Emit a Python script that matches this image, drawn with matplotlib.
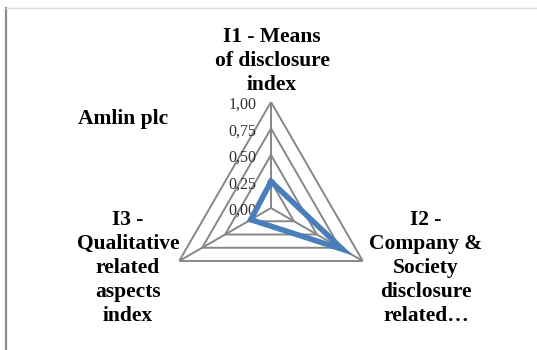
import numpy as np
import matplotlib
matplotlib.use("Agg")
import matplotlib.pyplot as plt
from matplotlib.lines import Line2D

# chart data
categories = ["I1 - Means\nof disclosure\nindex",
              "I2 -\nCompany &\nSociety\ndisclosure\nrelated\u2026",
              "I3 -\nQualitative\nrelated\naspects\nindex"]
values = [0.25, 0.78, 0.22]
grid_levels = [0.25, 0.50, 0.75, 1.00]
tick_levels = [0.00, 0.25, 0.50, 0.75, 1.00]
tick_labels = ["0,00", "0,25", "0,50", "0,75", "1,00"]
series_name = "Amlin plc"

W, H = 537, 350
fig = plt.figure(figsize=(W / 100, H / 100), dpi=100)

cx, cy, rad = 271, 208, 106
ax = fig.add_axes([(cx - rad) / W, (H - cy - rad) / H, 2 * rad / W, 2 * rad / H],
                  projection="polar")
ax.set_theta_offset(np.pi / 2)
ax.set_theta_direction(-1)
ax.set_ylim(0, 1)
ax.grid(False)
ax.spines["polar"].set_visible(False)
ax.set_xticks([])
ax.set_yticks([])
ax.patch.set_visible(False)

n = len(categories)
angles = np.linspace(0, 2 * np.pi, n, endpoint=False)
closed = np.concatenate([angles, angles[:1]])

grid_col = "#878787"
for lev in grid_levels:
    ax.plot(closed, [lev] * (n + 1), color=grid_col, lw=1.4, zorder=1)
for a in angles:
    ax.plot([a, a], [0, 1], color=grid_col, lw=1.4, zorder=1)

vals = values + values[:1]
ax.plot(closed, vals, color="#4a7ebb", lw=4.0, solid_joinstyle="miter", zorder=3)

serif = ["Liberation Serif", "DejaVu Serif"]
for lev, lab in zip(tick_levels, tick_labels):
    ax.annotate(lab, xy=(0, lev), xytext=(-10.5, -2), textcoords="offset points",
                ha="right", va="center", fontsize=11.5, family=serif,
                color="#303030", zorder=2)

# category labels
label_pos = [(272, 61), (426, 268), (128, 268)]
for lab, (px, py) in zip(categories, label_pos):
    fig.text(px / W, 1 - py / H, lab, ha="center", va="center", fontsize=15.5,
             fontweight="bold", family=serif, linespacing=1.27)

fig.text(78 / W, 1 - 119 / H, series_name, ha="left", va="center", fontsize=15.5,
         fontweight="bold", family=serif)

# frame bits
fig.add_artist(Line2D([5.5 / W, 5.5 / W], [0, 1 - 8 / H], transform=fig.transFigure,
                      color="#8c8c8c", lw=1.6))
fig.add_artist(Line2D([6 / W, 1], [1 - 8 / H, 1 - 8 / H], transform=fig.transFigure,
                      color="#d9d9d9", lw=1.0))

fig.savefig("out.png", dpi=100)
